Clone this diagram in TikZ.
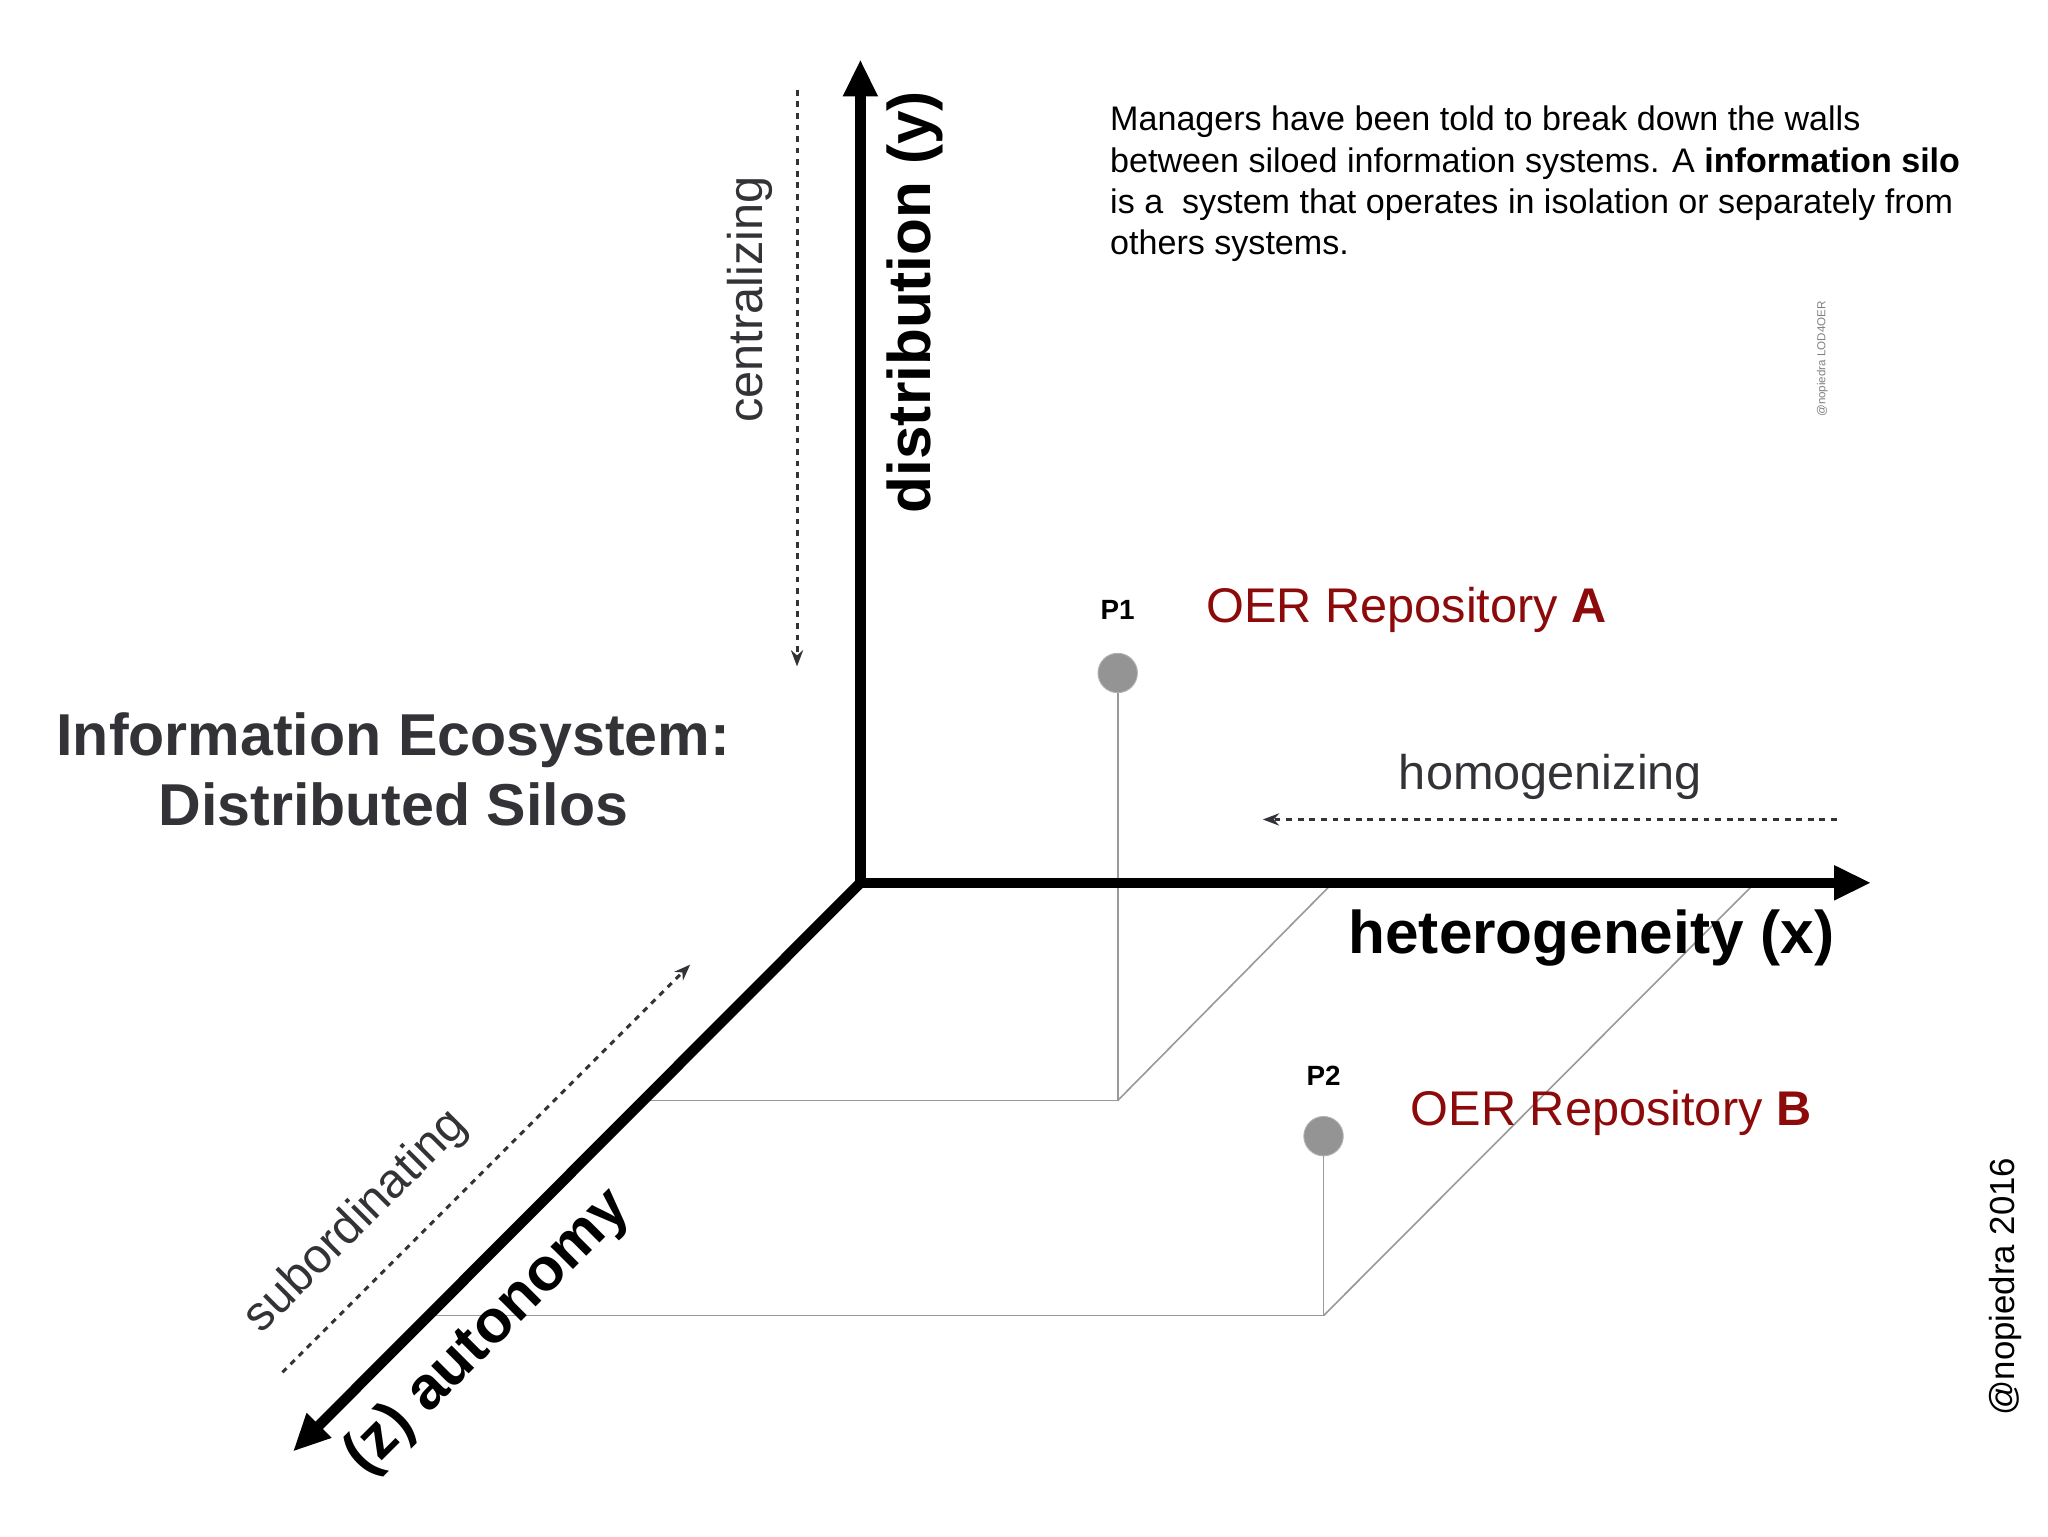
\documentclass[tikz,border=0pt]{standalone}
\usepackage{fontspec}
\setmainfont{Liberation Sans}
\usetikzlibrary{arrows.meta}
\definecolor{txt}{RGB}{50,50,55}
\definecolor{oer}{RGB}{140,10,10}
\begin{document}
\begin{tikzpicture}[x=0.02cm,y=-0.02cm,
 axis/.style={line width=4.5pt,-{Triangle[length=16pt,width=14pt]}},
 thin line/.style={draw=gray!80,line width=0.7pt},
 dot arrow/.style={dash pattern=on 2.5pt off 2.5pt,line width=1.3pt,color=txt,-{Stealth[length=7pt]}},
 pt/.style={circle,fill=gray!80!black!70,draw=gray!60,minimum size=17pt,inner sep=0pt},
 lab/.style={font=\fontsize{12}{14}\selectfont\bfseries},
 repo/.style={text=oer,font=\fontsize{21}{24}\selectfont,anchor=west},
 side/.style={text=txt,font=\fontsize{21}{24}\selectfont},
 axl/.style={font=\fontsize{26}{29}\selectfont\bfseries}]
\useasboundingbox (0,0) rectangle (1552,1164);
\coordinate (O) at (652,669);
\coordinate (Y) at (652,45);
\coordinate (X) at (1418,669);
\coordinate (Z) at (222,1100);
\node[pt] (p1) at (847,510) {};
\node[pt] (p2) at (1003,861) {};
\coordinate (a1) at (847,834);
\coordinate (a2) at (490,834);
\coordinate (a3) at (1010,669);
\coordinate (b1) at (1003,997);
\coordinate (b2) at (326,997);
\coordinate (b3) at (1330,669);
\draw[thin line] (p1) -- (a1) -- (a2);
\draw[thin line] (a1) -- (a3);
\draw[thin line] (p2) -- (b1) -- (b2);
\draw[thin line] (b1) -- (b3);
\draw[axis] (O) -- (Y);
\draw[axis] (O) -- (X);
\draw[axis] (O) -- (Z);
\coordinate (c1) at (604,68); \coordinate (c2) at (604,505);
\coordinate (h1) at (1392,621); \coordinate (h2) at (957,621);
\coordinate (s1) at (214,1040); \coordinate (s2) at (523,731);
\draw[dot arrow] (c1) -- (c2);
\draw[dot arrow] (h1) -- (h2);
\draw[dot arrow] (s1) -- (s2);
\node[side,rotate=90] (cl) at (568,227) {centralizing};
\node[side] (hl) at (1175,589) {homogenizing};
\node[side,rotate=45] (sl) at (270,926) {subordinating};
\node[axl,rotate=90] (yl) at (693,229) {distribution (y)};
\node[axl] (xl) at (1206,711) {heterogeneity (x)};
\node[axl,rotate=45] (zl) at (370,1010) {(z) autonomy};
\node[lab] (l1) at (847,462) {P1};
\node[lab] (l2) at (1003,815) {P2};
\node[repo] (r1) at (908,462) {OER Repository \textbf{A}};
\node[repo] (r2) at (1063,843) {OER Repository \textbf{B}};
\node[text=txt,font=\fontsize{25.5}{30}\selectfont\bfseries,align=center] (title) at (298,583) {Information Ecosystem:\\Distributed Silos};
\node[anchor=north west,font=\fontsize{14.7}{17.8}\selectfont,align=left,inner sep=0pt] (para) at (841,80)
{Managers have been told to break down the walls\\between siloed information systems. A \textbf{information silo}\\is a\ \ system that operates in isolation or separately from\\others systems.};
\node[rotate=90,text=gray,font=\fontsize{5}{6}\selectfont] (wm) at (1381,272) {@nopiedra LOD4OER};
\node[rotate=90,font=\fontsize{15}{18}\selectfont] (cr) at (1520,975) {@nopiedra 2016};
\end{tikzpicture}
\end{document}
